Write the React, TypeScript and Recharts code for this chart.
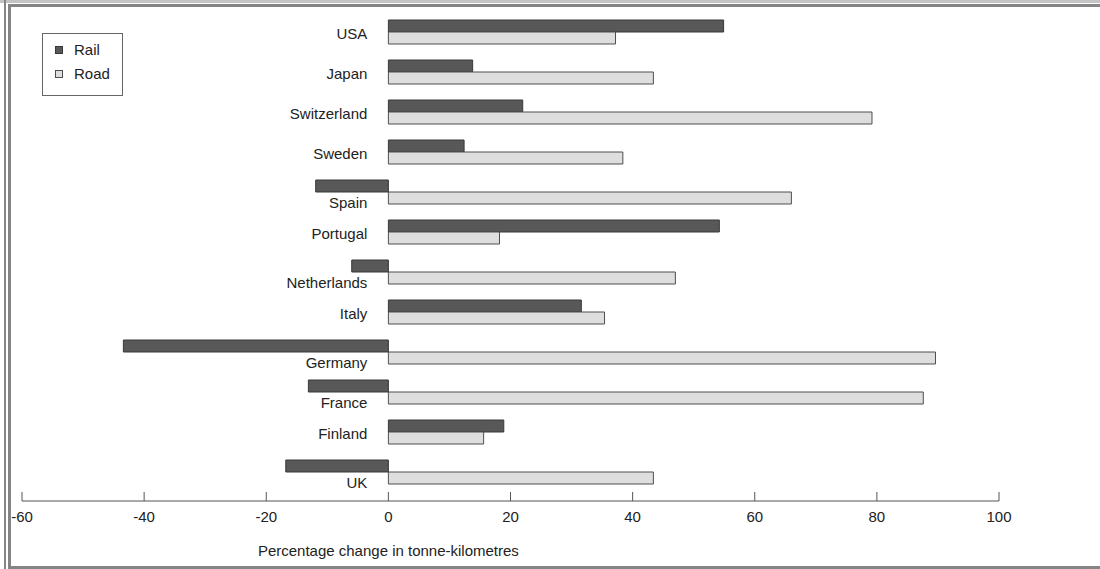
import React from 'react';
import { BarChart, Bar, XAxis, YAxis, Legend } from 'recharts';

const countries = ['USA', 'Japan', 'Switzerland', 'Sweden', 'Spain', 'Portugal', 'Netherlands', 'Italy', 'Germany', 'France', 'Finland', 'UK'];
const railChange = [54.9, 13.8, 22.0, 12.4, -11.9, 54.2, -6.0, 31.6, -43.4, -13.1, 18.9, -16.8];
const roadChange = [37.2, 43.4, 79.2, 38.4, 66.0, 18.2, 47.0, 35.4, 89.6, 87.6, 15.6, 43.4];
const xTicks = [-60, -40, -20, 0, 20, 40, 60, 80, 100];
const seriesNames = ['Rail', 'Road'];

const data = countries.map((country, i) => ({ country, rail: railChange[i], road: roadChange[i] }));

const W = 1100;
const H = 569;
const PLOT_LEFT = 22;
const PLOT_RIGHT = 999;
const X_MIN = -60;
const X_MAX = 100;
// pixel position of the zero line, labels hang off it
const zeroX = PLOT_LEFT + ((0 - X_MIN) / (X_MAX - X_MIN)) * (PLOT_RIGHT - PLOT_LEFT);
const FONT = '"Liberation Sans", Arial, Helvetica, sans-serif';
const FS = 15;
const RAIL_FILL = '#585858';
const RAIL_STROKE = '#383838';
const ROAD_FILL = '#dedede';
const ROAD_STROKE = '#4e4e4e';

const renderCountryTick = (props: any) => {
    const { y, payload } = props;
    const row = data.find((d) => d.country === payload.value);
    const neg = row && row.rail < 0;
    return (
        <text key={payload.value} x={zeroX - 21} y={y + (neg ? 10 : 1)} textAnchor="end" dominantBaseline="central"
            fontSize={FS} fontFamily={FONT} fill="#222">
            {payload.value}
        </text>
    );
};

const renderValueTick = (props: any) => {
    const { x, y, payload } = props;
    return (
        <g key={payload.value}>
            <line x1={x} x2={x} y1={y - 9} y2={y} stroke="#555" />
            <text x={x} y={y + 15} textAnchor="middle" dominantBaseline="central" fontSize={FS} fontFamily={FONT} fill="#222">
                {payload.value}
            </text>
        </g>
    );
};

const AxisTitle = ({ viewBox }: any) => (
    <text x={zeroX} y={viewBox.y + 49} textAnchor="middle" dominantBaseline="central" fontSize={FS} fontFamily={FONT} fill="#222">
        Percentage change in tonne-kilometres
    </text>
);

const LegendBox = () => (
    <div style={{ position: 'relative', width: 81, height: 63, boxSizing: 'border-box', border: '1px solid #666', background: '#fff', fontFamily: FONT, fontSize: FS, color: '#222' }}>
        {seriesNames.map((name, i) => (
            <React.Fragment key={name}>
                <div style={{ position: 'absolute', left: 12, top: 12 + i * 24, width: 8, height: 8, boxSizing: 'border-box', background: i === 0 ? RAIL_FILL : ROAD_FILL, border: `1px solid ${i === 0 ? RAIL_STROKE : ROAD_STROKE}` }} />
                <div style={{ position: 'absolute', left: 31, top: 8 + i * 24, lineHeight: '16px' }}>{name}</div>
            </React.Fragment>
        ))}
    </div>
);

const frameLine = (left: number, top: number, width: number, height: number, bg: string) => (
    <div style={{ position: 'absolute', left, top, width, height, background: bg }} />
);

export default function App() {
    return (
        <div style={{ position: 'absolute', left: 0, top: 0, width: W, height: H, background: '#fff' }}>
            <BarChart width={W} height={H} data={data} layout="vertical"
                margin={{ top: 12, right: W - PLOT_RIGHT, left: PLOT_LEFT - 1, bottom: 0 }}
                barSize={12} barGap={0}>
                <XAxis type="number" domain={[X_MIN, X_MAX]} ticks={xTicks} interval={0}
                    height={68} stroke="#555" tickSize={0} tickMargin={0} tickLine={false}
                    tick={renderValueTick} label={{ content: AxisTitle }} />
                <YAxis type="category" dataKey="country" width={1} axisLine={false} tickLine={false}
                    interval={0} padding={{ top: 0, bottom: 9 }} tick={renderCountryTick} />
                <Legend layout="vertical" align="center" verticalAlign="middle" content={LegendBox}
                    wrapperStyle={{ position: 'absolute', left: 42, top: 33, width: 81, height: 63 }} />
                <Bar dataKey="rail" name="Rail" fill={RAIL_FILL} stroke={RAIL_STROKE} isAnimationActive={false} />
                <Bar dataKey="road" name="Road" fill={ROAD_FILL} stroke={ROAD_STROKE} isAnimationActive={false} />
            </BarChart>
            {frameLine(0, 0, W, 3, '#c4c4c4')}
            {frameLine(8, 4, W - 8, 3, '#858585')}
            {frameLine(4, 0, 2, H, '#858585')}
            {frameLine(8, 4, 3, H - 4, '#858585')}
            {frameLine(8, 566, W - 8, 3, '#858585')}
        </div>
    );
}
